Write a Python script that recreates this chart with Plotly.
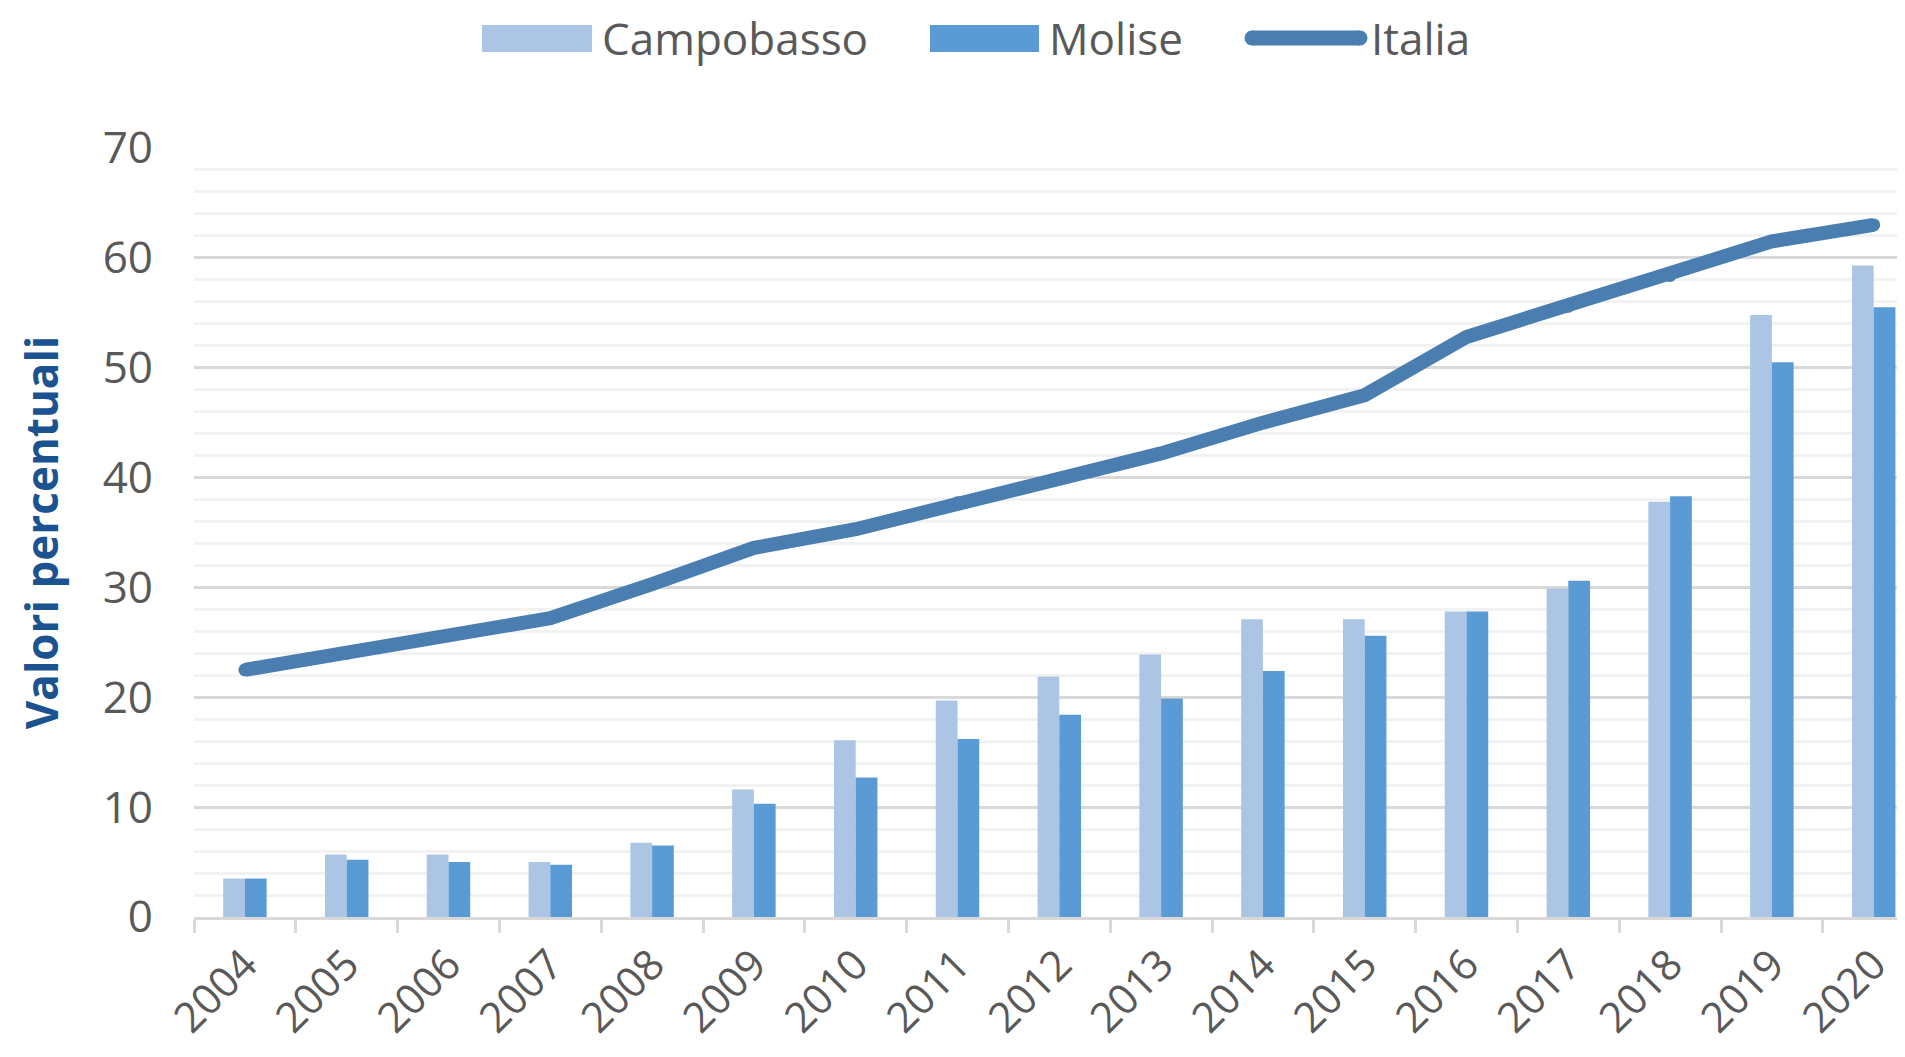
import plotly.graph_objects as go

years = [str(y) for y in range(2004, 2021)]
campobasso = [3.5, 5.7, 5.7, 5.0, 6.75, 11.6, 16.1, 19.7, 21.9, 23.9, 27.1, 27.1, 27.8, 29.9, 37.8, 54.8, 59.3]
molise = [3.5, 5.2, 5.0, 4.75, 6.5, 10.3, 12.7, 16.2, 18.4, 19.9, 22.4, 25.6, 27.8, 30.6, 38.3, 50.5, 55.5]
italia = [22.5, 24.0, 25.6, 27.2, 30.3, 33.6, 35.3, 37.7, 39.9, 42.2, 45.0, 47.5, 52.8, 55.6, 58.4, 61.5, 63.0]

C_CAMPO = "#adc5e5"
C_MOL = "#5b9bd5"
C_ITA = "#4a7eb0"
GREY = "#595959"
FONT = "Open Sans"

OFF = 8  # page body margin offset
W, H = 1905 - OFF, 1057 - 2 * OFF
# target page pixel positions of the plot area
P_LEFT, P_TOP, P_BOTTOM = 194, 148, 917
L = P_LEFT - OFF
T = P_TOP - OFF
B = H - (P_BOTTOM - OFF)
R = 0
PW, PH = W - L - R, H - T - B
CAT_W = 101.8

def px(x):
    return (x - P_LEFT) / PW

def py(y):
    return (P_BOTTOM - y) / PH

fig = go.Figure()
fig.add_trace(go.Bar(x=years, y=campobasso, name="Campobasso", marker=dict(color=C_CAMPO, line=dict(width=0)), showlegend=False))
fig.add_trace(go.Bar(x=years, y=molise, name="Molise", marker=dict(color=C_MOL, line=dict(width=0)), showlegend=False))
fig.add_trace(go.Scatter(x=years, y=italia, name="Italia", mode="lines+markers",
                         line=dict(color=C_ITA, width=14),
                         marker=dict(color=C_ITA, size=13, line=dict(width=0)), showlegend=False))

# custom legend (layout decoration)
shapes = []
annotations = []
leg_y0, leg_y1 = 25, 52
shapes.append(dict(type="rect", xref="paper", yref="paper", x0=px(482), x1=px(592), y0=py(leg_y1), y1=py(leg_y0),
                   fillcolor=C_CAMPO, line=dict(width=0)))
shapes.append(dict(type="rect", xref="paper", yref="paper", x0=px(930), x1=px(1039), y0=py(leg_y1), y1=py(leg_y0),
                   fillcolor=C_MOL, line=dict(width=0)))
lc = 38
shapes.append(dict(type="line", xref="paper", yref="paper", x0=px(1252), x1=px(1360), y0=py(lc), y1=py(lc),
                   line=dict(color=C_ITA, width=15)))
for cx in (1252, 1360):
    shapes.append(dict(type="circle", xref="paper", yref="paper", x0=px(cx - 7.5), x1=px(cx + 7.5),
                       y0=py(lc + 7.5), y1=py(lc - 7.5), fillcolor=C_ITA, line=dict(width=0)))
for label, x0 in (("Campobasso", 600), ("Molise", 1047), ("Italia", 1369)):
    annotations.append(dict(text=label, xref="paper", yref="paper", x=px(x0), y=py(lc), xanchor="left", yanchor="middle",
                            showarrow=False, font=dict(family=FONT, size=44, color=GREY)))

fig.update_layout(
    width=W, height=H, autosize=False,
    margin=dict(l=L, r=R, t=T, b=B, pad=0),
    paper_bgcolor="white", plot_bgcolor="white",
    barmode="group", bargap=0.573, bargroupgap=0,
    showlegend=False,
    shapes=shapes, annotations=annotations,
    font=dict(family=FONT, color=GREY),
)
fig.update_xaxes(
    type="category", range=[-0.5, -0.5 + PW / CAT_W], automargin=False,
    showline=True, linecolor="#d9d9d9", linewidth=3,
    ticks="outside", tickson="boundaries", ticklen=13, tickwidth=3, tickcolor="#d9d9d9",
    tickangle=-45, ticklabelstandoff=3, tickfont=dict(family=FONT, size=42, color=GREY),
    showgrid=False, zeroline=False,
)
fig.update_yaxes(
    range=[0, 70], dtick=10, tick0=0, automargin=False,
    showline=False, zeroline=False,
    showgrid=True, gridcolor="#d9d9d9", gridwidth=3,
    minor=dict(dtick=2, showgrid=True, gridcolor="#f2f2f2", gridwidth=3),
    ticks="", ticklabelstandoff=40,
    tickfont=dict(family=FONT, size=44, color=GREY),
    title=dict(text="<b>Valori percentuali</b>", font=dict(family=FONT, size=44, color="#1b5390"), standoff=30),
)

fig.write_html("out.html")
